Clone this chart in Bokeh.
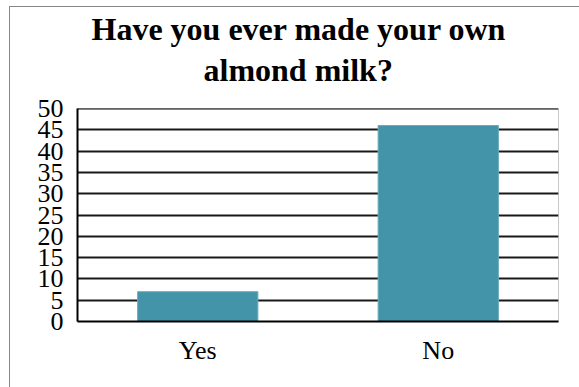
from bokeh.plotting import figure
from bokeh.models import FactorRange, Range1d, FixedTicker, Span, Title
from bokeh.embed import file_html
from bokeh.resources import INLINE

categories = ["Yes", "No"]
counts = [7, 46]
y_ticks = [0, 5, 10, 15, 20, 25, 30, 35, 40, 45, 50]
title_line1 = "Have you ever made your own"
title_line2 = "almond milk?"

SERIF = "'Liberation Serif', 'Times New Roman', serif"

# figure placed at (10,7) inside the window (9px margin + 1px CSS border on left/top)
p = figure(x_range=FactorRange(*categories, range_padding=0), y_range=Range1d(0, 50),
           width=600, height=400, output_backend="svg", toolbar_location=None,
           min_border_left=67, min_border_right=600 - (558 - 10), min_border_top=101,
           min_border_bottom=400 - (321 - 7))
p.frame_width = 558 - 77
p.frame_height = 321 - 108
p.title = None

p.styles = {"border-left": "1px solid #888888", "border-top": "1px solid #888888",
            "margin-left": "9px", "margin-top": "6px"}

p.vbar(x=categories, top=counts, width=0.5, fill_color="#4394A9", line_color="#6aaabb", line_width=1)

spacer = Title(text=" ", text_font=SERIF, text_font_size="10px", standoff=6)
t2 = Title(text=title_line2, align="left", text_font=SERIF, text_font_size="32px",
           text_font_style="bold", text_color="black", offset=126, standoff=4)
t1 = Title(text=title_line1, align="left", text_font=SERIF, text_font_size="32px",
           text_font_style="bold", text_color="black", offset=14, standoff=2)
p.add_layout(spacer, "above")
p.add_layout(t2, "above")
p.add_layout(t1, "above")

p.outline_line_color = "#c8c8c8"
p.outline_line_width = 1

p.yaxis.ticker = FixedTicker(ticks=y_ticks)
p.ygrid.ticker = FixedTicker(ticks=y_ticks)
p.ygrid.grid_line_color = "black"
p.ygrid.grid_line_width = 2
p.ygrid.grid_line_alpha = 0.9
p.xgrid.grid_line_color = None

for ax in (p.xaxis, p.yaxis):
    ax.axis_line_color = "black"
    ax.axis_line_width = 2
    ax.major_tick_line_color = None
    ax.minor_tick_line_color = None
    ax.major_tick_out = 0
    ax.major_tick_in = 0
    ax.major_label_text_font = SERIF
    ax.major_label_text_font_size = "26px"
    ax.major_label_text_color = "black"

p.yaxis.major_label_standoff = 14
p.xaxis.major_label_standoff = 14

top_span = Span(location=50, dimension="width", line_color="black", line_width=2)
p.add_layout(top_span)

open("out.html", "w").write(file_html(p, INLINE))
